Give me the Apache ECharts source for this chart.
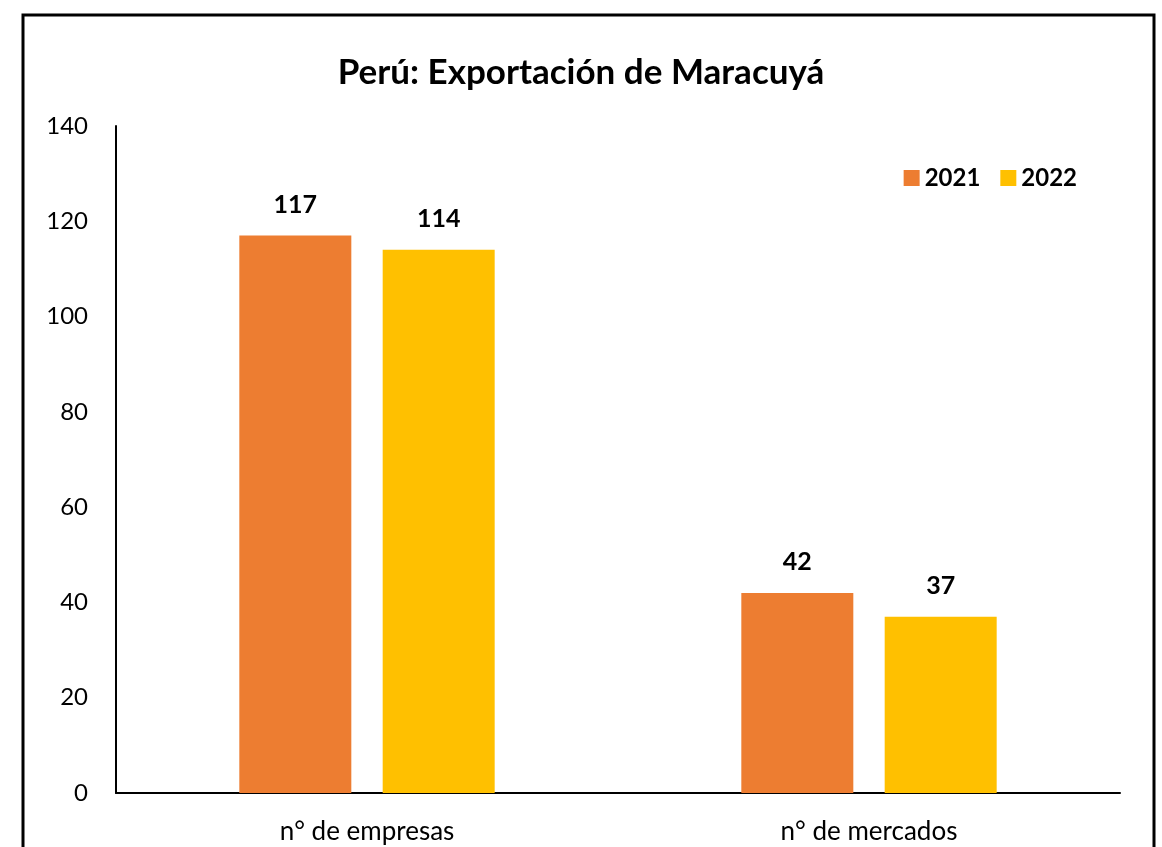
<!DOCTYPE html>
<html>
<head>
<meta charset="utf-8">
<script src="https://cdn.jsdelivr.net/npm/echarts@6/dist/echarts.min.js"></script>
<style>
  html, body { margin: 0; padding: 0; background: #fff; }
  #chart { width: 1162px; height: 847px; }
</style>
</head>
<body>
<div id="chart"></div>
<script>
  var categories = ['n° de empresas', 'n° de mercados']
  var values2021 = [117, 42]
  var values2022 = [114, 37]
  var seriesNames = ['2021', '2022']

  var font = 'Lato, "Open Sans", sans-serif'
  var chart = echarts.init(document.getElementById('chart'))

  var labelStyle = {
    show: true,
    position: 'top',
    distance: 18,
    color: '#000',
    fontWeight: 'bold',
    fontSize: 25,
    fontFamily: font,
  }

  chart.setOption({
    backgroundColor: '#fff',
    animation: false,
    title: {
      text: 'Perú: Exportación de Maracuyá',
      left: 'center',
      top: 50,
      textStyle: {
        color: '#000',
        fontWeight: 'bold',
        fontSize: 35,
        fontFamily: font,
      },
    },
    legend: {
      data: seriesNames,
      right: 80,
      top: 161,
      itemWidth: 16,
      itemHeight: 16,
      itemGap: 20,
      icon: 'rect',
      textStyle: {
        color: '#000',
        fontWeight: 'bold',
        fontSize: 24,
        fontFamily: font,
      },
    },
    grid: {
      left: 116,
      right: 42,
      top: 126,
      bottom: 54,
    },
    xAxis: {
      type: 'category',
      data: categories,
      axisLine: { show: true, lineStyle: { color: '#000', width: 2 } },
      axisTick: { show: false },
      axisLabel: {
        color: '#000',
        fontSize: 26,
        fontFamily: font,
        margin: 26,
      },
    },
    yAxis: {
      type: 'value',
      min: 0,
      max: 140,
      interval: 20,
      axisLine: { show: true, lineStyle: { color: '#000', width: 2 } },
      axisTick: { show: false },
      splitLine: { show: false },
      axisLabel: {
        color: '#000',
        fontSize: 24,
        fontFamily: font,
        margin: 28,
      },
    },
    series: [
      {
        name: seriesNames[0],
        type: 'bar',
        data: values2021,
        barWidth: 112,
        barGap: '28%',
        itemStyle: { color: '#ED7D31' },
        label: labelStyle,
      },
      {
        name: seriesNames[1],
        type: 'bar',
        data: values2022,
        barWidth: 112,
        itemStyle: { color: '#FFC000' },
        label: labelStyle,
      },
    ],
    graphic: [
      {
        type: 'rect',
        shape: { x: 23, y: 15, width: 1131, height: 860 },
        style: { fill: 'none', stroke: '#000', lineWidth: 3 },
        silent: true,
      },
    ],
  })
</script>
</body>
</html>
